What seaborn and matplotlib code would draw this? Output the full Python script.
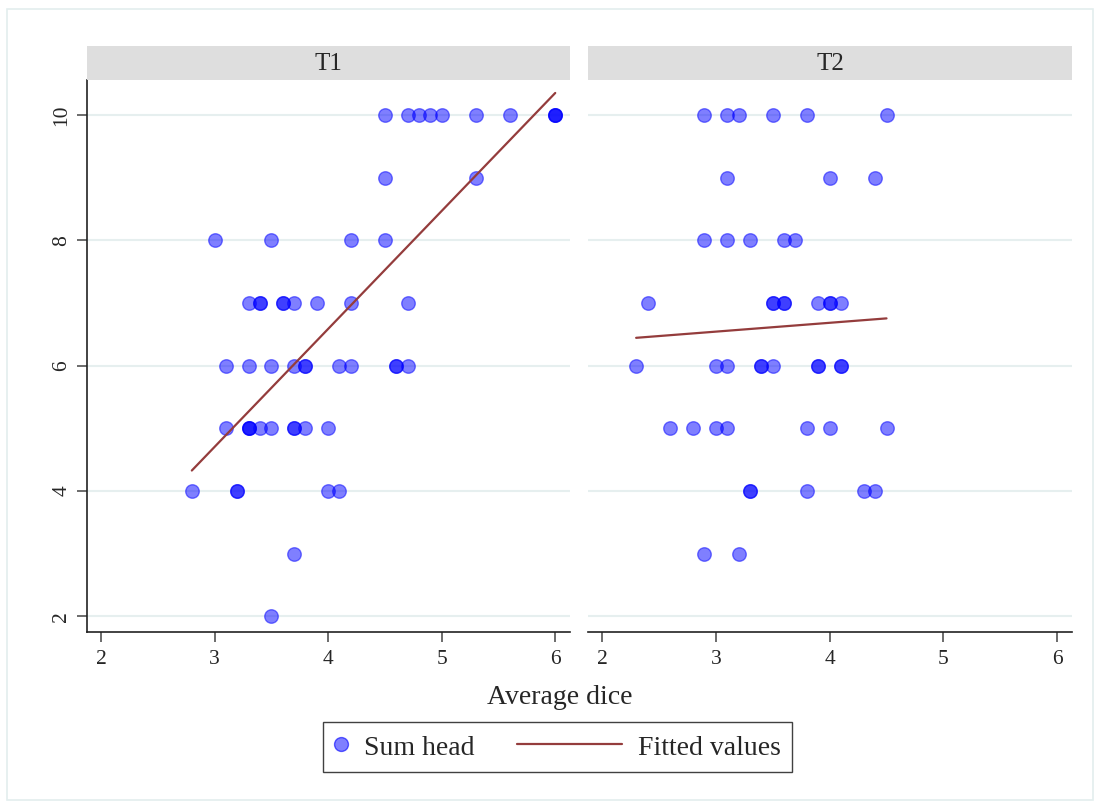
import numpy as np
import pandas as pd
import matplotlib
matplotlib.use("Agg")
import matplotlib.pyplot as plt
import seaborn as sns
from matplotlib.lines import Line2D
from matplotlib.patches import Rectangle
from matplotlib.legend_handler import HandlerLine2D

# ---- data ----
t1_avg = [4.5, 4.7, 4.8, 4.9, 5.0, 5.3, 5.6, 6.0, 6.0, 6.0,
          4.5, 5.3,
          3.0, 3.5, 4.2, 4.5,
          3.3, 3.4, 3.4, 3.6, 3.6, 3.7, 3.9, 4.2, 4.7,
          3.1, 3.3, 3.5, 3.7, 3.8, 3.8, 4.1, 4.2, 4.6, 4.6, 4.7,
          3.1, 3.3, 3.3, 3.3, 3.4, 3.5, 3.7, 3.7, 3.8, 4.0,
          2.8, 3.2, 3.2, 4.0, 4.1,
          3.7,
          3.5]
t1_sum = [10] * 10 + [9] * 2 + [8] * 4 + [7] * 9 + [6] * 11 + [5] * 10 + [4] * 5 + [3] * 1 + [2] * 1

t2_avg = [2.9, 3.1, 3.2, 3.5, 3.8, 4.5,
          3.1, 4.0, 4.4,
          2.9, 3.1, 3.3, 3.6, 3.7,
          2.4, 3.5, 3.5, 3.6, 3.6, 3.9, 4.0, 4.0, 4.1,
          2.3, 3.0, 3.1, 3.4, 3.4, 3.5, 3.9, 3.9, 4.1, 4.1,
          2.6, 2.8, 3.0, 3.1, 3.8, 4.0, 4.5,
          3.3, 3.3, 3.8, 4.3, 4.4,
          2.9, 3.2]
t2_sum = [10] * 6 + [9] * 3 + [8] * 5 + [7] * 9 + [6] * 10 + [5] * 7 + [4] * 5 + [3] * 2

panels = ["T1", "T2"]
x_ticks = [2, 3, 4, 5, 6]
y_ticks = [2, 4, 6, 8, 10]
x_label = "Average dice"
legend_labels = ["Sum head", "Fitted values"]

df = pd.concat([
    pd.DataFrame({"avg": t1_avg, "sum": t1_sum, "group": "T1"}),
    pd.DataFrame({"avg": t2_avg, "sum": t2_sum, "group": "T2"}),
])

# ---- style ----
sns.set_style("white")
plt.rcParams["font.family"] = ["Liberation Serif", "DejaVu Serif"]

W, H = 1100, 806
fig = plt.figure(figsize=(W / 100, H / 100), dpi=100)
fig.patch.set_facecolor("white")
fig.patches.append(Rectangle((7 / W, 1 - 800 / H), (1093 - 7) / W, (800 - 9) / H,
                             transform=fig.transFigure, fill=False,
                             edgecolor="#e3eeee", linewidth=1.2))

def px_axes(x0, y0, x1, y1):
    return fig.add_axes([x0 / W, 1 - y1 / H, (x1 - x0) / W, (y1 - y0) / H])

dot_color = "#0000ff"
line_color = "#943c3c"
grid_color = "#e6efef"
tick_fs = 15.5

boxes = [(87, 570), (588, 1072)]
for i, (name, (x0, x1)) in enumerate(zip(panels, boxes)):
    ax = px_axes(x0, 80, x1, 632)
    sub = df[df["group"] == name]
    for yv in y_ticks:
        ax.axhline(yv, color=grid_color, linewidth=1.5, zorder=0)
    sns.scatterplot(data=sub, x="avg", y="sum", ax=ax, s=95, color=dot_color,
                    alpha=0.5, edgecolor=dot_color, linewidth=1.0, zorder=3)
    sns.regplot(data=sub, x="avg", y="sum", ax=ax, scatter=False, ci=None,
                truncate=True, color=line_color, line_kws={"linewidth": 1.6, "zorder": 4})
    ax.set_xlim(1.877, 6.13)
    ax.set_ylim(1.75, 10.56)
    ax.set_xticks(x_ticks)
    ax.set_xticklabels([str(t) for t in x_ticks], fontsize=tick_fs)
    ax.set_xlabel("")
    ax.set_ylabel("")
    for s in ["top", "right"]:
        ax.spines[s].set_visible(False)
    ax.spines["bottom"].set_color("#222222")
    ax.spines["bottom"].set_linewidth(1.2)
    ax.tick_params(axis="x", direction="out", length=7.2, width=1.1, color="#444444",
                   bottom=True, pad=6, labelsize=tick_fs)
    if i == 0:
        ax.spines["left"].set_color("#222222")
        ax.spines["left"].set_linewidth(1.2)
        ax.set_yticks(y_ticks)
        ax.set_yticklabels([str(t) for t in y_ticks], fontsize=tick_fs, rotation=90, va="center")
        ax.tick_params(axis="y", direction="out", length=7.2, width=1.1, color="#444444",
                       left=True, pad=4)
    else:
        ax.spines["left"].set_visible(False)
        ax.set_yticks(y_ticks)
        ax.tick_params(axis="y", left=False, labelleft=False)
    # strip
    sax = px_axes(x0, 46, x1, 80)
    sax.set_facecolor("#dedede")
    for s in sax.spines.values():
        s.set_visible(False)
    sax.set_xticks([])
    sax.set_yticks([])
    sax.text(0.5, 0.47, name, ha="center", va="center", fontsize=18,
             transform=sax.transAxes)

fig.text(560 / W, 1 - 697 / H, x_label, ha="center", va="center", fontsize=20)


class MarkerLeftHandler(HandlerLine2D):
    def get_xdata(self, legend, xdescent, ydescent, width, height, fontsize):
        xdata, xm = super().get_xdata(legend, xdescent, ydescent, width, height, fontsize)
        return xdata, [-xdescent + 0.57 * width]


class LongLineHandler(HandlerLine2D):
    def __init__(self, extra, **kw):
        super().__init__(**kw)
        self.extra = extra

    def create_artists(self, legend, orig_handle, xdescent, ydescent, width, height,
                       fontsize, trans):
        return super().create_artists(legend, orig_handle, xdescent + self.extra, ydescent,
                                      width + self.extra, height, fontsize, trans)


h_dot = Line2D([], [], marker="o", linestyle="none", markersize=10,
               markerfacecolor=(0, 0, 1, 0.5), markeredgecolor=(0, 0, 1, 0.6), markeredgewidth=1.0)
h_line = Line2D([], [], color=line_color, linewidth=1.6)
leg = fig.legend([h_dot, h_line], legend_labels, loc="center",
                 bbox_to_anchor=(557.5 / W, 1 - 747 / H),
                 ncol=2, fontsize=20, frameon=True, fancybox=False,
                 handlelength=0.5, handleheight=1.0, handletextpad=0.58,
                 columnspacing=4.82, borderpad=0.4, borderaxespad=0,
                 handler_map={h_dot: MarkerLeftHandler(numpoints=1),
                              h_line: LongLineHandler(extra=65.5)})
leg.get_frame().set_edgecolor("#111111")
leg.get_frame().set_linewidth(1.0)

fig.savefig("out.png", dpi=100)
